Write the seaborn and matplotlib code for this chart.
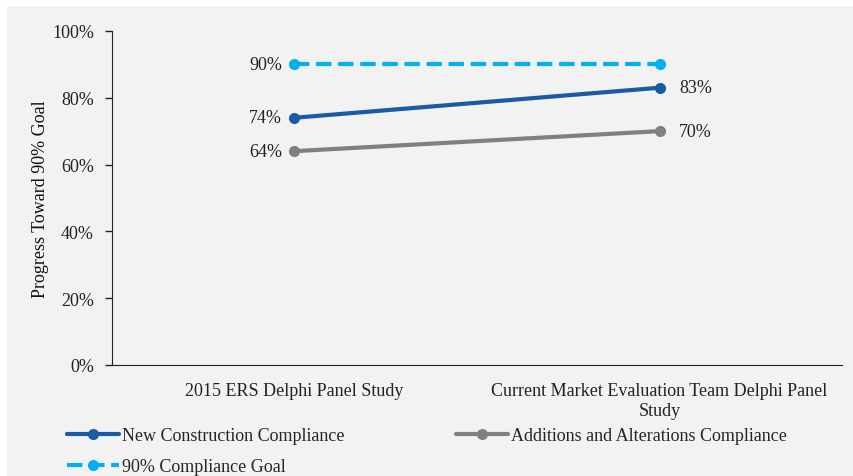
import matplotlib
matplotlib.use("Agg")
import pandas as pd
import matplotlib.pyplot as plt
import seaborn as sns
from matplotlib.ticker import PercentFormatter

# data
studies = ["2015 ERS Delphi Panel Study",
           "Current Market Evaluation Team Delphi Panel\nStudy"]
new_construction = [74, 83]
additions_alterations = [64, 70]
goal = [90, 90]

series_names = ["New Construction Compliance",
                "Additions and Alterations Compliance",
                "90% Compliance Goal"]
colors = ["#1a5ba6", "#808080", "#00b0f0"]
styles = ["-", "-", "--"]

df = pd.DataFrame({
    "Study": studies * 3,
    "Value": new_construction + additions_alterations + goal,
    "Series": [s for s in series_names for _ in studies],
})

sns.set_style("white")
plt.rcParams['font.family'] = ['Liberation Serif', 'DejaVu Serif']
FS = 13

fig = plt.figure(figsize=(8.54, 4.77), dpi=100)
fig.patch.set_facecolor("white")
bg = plt.Rectangle((7 / 854, 0), 1 - 7 / 854, 1 - 7 / 477, transform=fig.transFigure,
                   facecolor="#f2f2f2", edgecolor="none", zorder=-10)
fig.patches.append(bg)

ax = fig.add_axes([0.131, 0.233, 0.855, 0.70])
ax.set_facecolor("#f2f2f2")

for name, col, ls in zip(series_names, colors, styles):
    sub = df[df["Series"] == name]
    sns.lineplot(data=sub, x="Study", y="Value", ax=ax, color=col, linestyle=ls,
                 marker="o", markersize=8, markeredgewidth=0, linewidth=3,
                 label=name, sort=False)

# point labels
for name in series_names:
    sub = df[df["Series"] == name].reset_index(drop=True)
    ax.annotate(f"{sub.loc[0, 'Value']}%", (0, sub.loc[0, "Value"]),
                xytext=(-9, 0), textcoords="offset points",
                ha="right", va="center", fontsize=FS, color="#222222")
    if name != "90% Compliance Goal":
        ax.annotate(f"{sub.loc[1, 'Value']}%", (1, sub.loc[1, "Value"]),
                    xytext=(14, 0), textcoords="offset points",
                    ha="left", va="center", fontsize=FS, color="#222222")

ax.set_xlim(-0.5, 1.5)
ax.set_ylim(0, 100)
ax.set_yticks(range(0, 101, 20))
ax.yaxis.set_major_formatter(PercentFormatter(decimals=0))
ax.set_xlabel("")
ax.set_ylabel("Progress Toward 90% Goal", fontsize=FS, color="#111111", labelpad=2)
ax.tick_params(axis="y", length=5, width=1, color="#222222", labelsize=FS,
               labelcolor="#222222", left=True, pad=8)
ax.tick_params(axis="x", length=0, labelsize=FS, labelcolor="#222222", pad=12)
for lab in ax.get_xticklabels():
    lab.set_ha("center")
    lab.set_multialignment("center")
    lab.set_linespacing(1.3)

sns.despine(ax=ax, top=True, right=True)
ax.spines["left"].set_color("#222222")
ax.spines["bottom"].set_color("#222222")

handles, labels = ax.get_legend_handles_labels()
ax.get_legend().remove()
order = [0, 2, 1]
fig.legend([handles[i] for i in order], [labels[i] for i in order],
           loc="upper left", bbox_to_anchor=(0.078, 0.102),
           ncol=2, frameon=False, fontsize=FS, handlelength=2.9, handletextpad=0.15,
           columnspacing=6.2, labelspacing=0.75, borderaxespad=0, borderpad=0)

fig.savefig("out.png", dpi=100, facecolor=fig.get_facecolor())
